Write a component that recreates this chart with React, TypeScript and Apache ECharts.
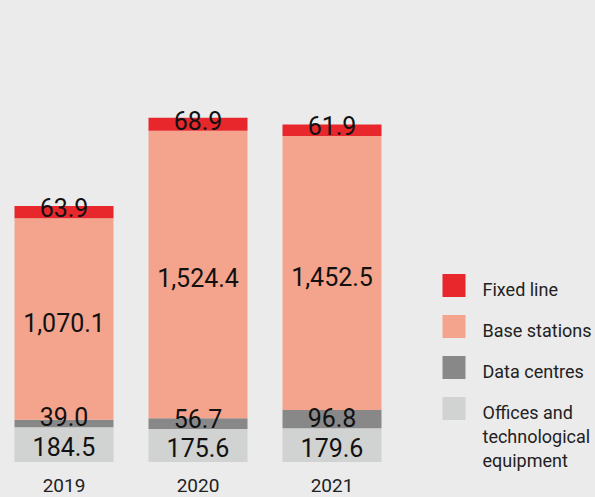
import React, { useEffect, useRef } from "react";
import * as echarts from "echarts";

const categories = ["2019", "2020", "2021"];
const offices = [184.5, 175.6, 179.6];
const dataCentres = [39.0, 56.7, 96.8];
const baseStations = [1070.1, 1524.4, 1452.5];
const fixedLine = [63.9, 68.9, 61.9];

const seriesNames = ["Offices and\ntechnological\nequipment", "Data centres", "Base stations", "Fixed line"];
const seriesColors = ["#d1d2d2", "#888888", "#f4a38c", "#e7272b"];

const fmt = (v: number) =>
  v.toLocaleString("en-US", { minimumFractionDigits: 1, maximumFractionDigits: 1 });

const SHIFT = 3.5;

export default function App() {
  const ref = useRef<HTMLDivElement>(null);
  useEffect(() => {
    if (!ref.current) return;
    const chart = echarts.init(ref.current, null, { renderer: "svg" });
    const font = "Roboto";
    const labelBase = {
      show: true,
      color: "#111111",
      fontSize: 25,
      fontFamily: font,
      formatter: (p: any) => fmt(p.value),
    };
    const dataSets = [offices, dataCentres, baseStations, fixedLine];
    const labelCfg = [
      { position: "inside", offset: [0, 3] },
      { position: "insideBottom", distance: 0, offset: [0, 3] },
      { position: "inside", offset: [0, 4] },
      { position: "insideBottom", distance: 0, offset: [0, 3] },
    ];
    const series = dataSets.map((d, i) => ({
      name: seriesNames[i],
      type: "bar",
      stack: "total",
      data: d,
      barWidth: 99,
      itemStyle: { color: seriesColors[i] },
      label: { ...labelBase, ...labelCfg[i] },
    }));

    // legend drawn as graphic, top to bottom: Fixed line, Base stations, Data centres, Offices
    const legendGraphics: any[] = [];
    for (let k = 0; k < 4; k++) {
      const i = 3 - k;
      const y = 274 + k * 41;
      legendGraphics.push({
        type: "rect",
        x: 442 + SHIFT,
        y: y,
        shape: { width: 23, height: 23 },
        style: { fill: seriesColors[i] },
      });
      const multi = seriesNames[i].includes("\n");
      legendGraphics.push({
        type: "text",
        x: 482 + SHIFT,
        y: multi ? y + 3 : y + 15,
        style: {
          text: seriesNames[i],
          fontSize: 18,
          fontFamily: font,
          fill: "#222222",
          lineHeight: 24,
          verticalAlign: multi ? "top" : "middle",
        },
      });
    }

    chart.setOption({
      animation: false,
      backgroundColor: "#ebebeb",
      grid: { left: 0, width: 402, bottom: 35, top: 85 },
      xAxis: {
        type: "category",
        data: categories,
        axisLine: { show: false },
        axisTick: { show: false },
        axisLabel: {
          color: "#222222",
          fontSize: 19,
          lineHeight: 19,
          fontFamily: font,
          margin: 14,
        },
      },
      yAxis: {
        type: "value",
        min: 0,
        max: 2000,
        show: false,
        splitLine: { show: false },
      },
      series,
      graphic: legendGraphics,
    });
    return () => chart.dispose();
  }, []);
  return (
    <div
      ref={ref}
      style={{ position: "absolute", left: -SHIFT, top: 0, width: 595 + SHIFT, height: 497 }}
    />
  );
}
